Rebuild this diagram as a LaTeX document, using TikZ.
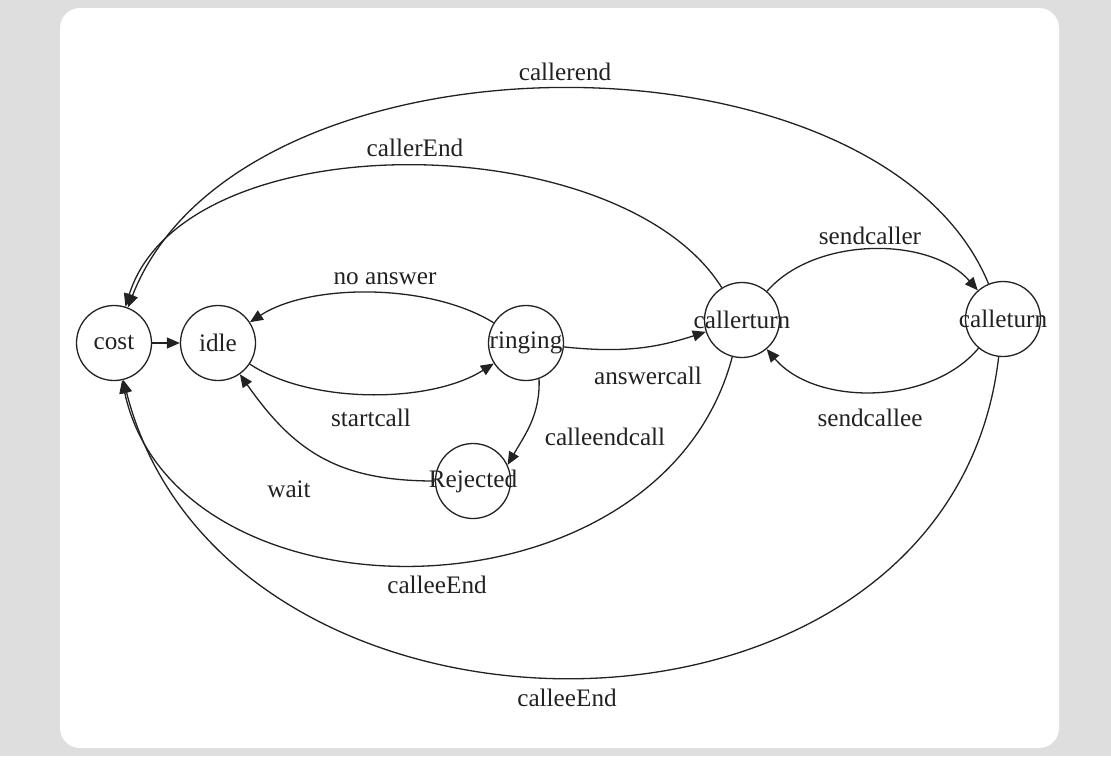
\documentclass[tikz,border=0pt]{standalone}
\usepackage{fontspec}
\setmainfont{Liberation Serif}
\usepackage{tikz}
\usetikzlibrary{arrows.meta, positioning}

\definecolor{pagegray}{HTML}{DEDEDE}
\definecolor{ink}{HTML}{222222}
\newcommand{\stname}[1]{\makebox[0pt]{#1}}

\begin{document}
\begin{tikzpicture}[
  x=0.5pt, y=-0.5pt,
  >={Triangle[length=6.5pt, width=5.5pt]},
  every node/.style={font=\fontsize{12.6}{14}\selectfont, text=ink},
  state/.style={draw=ink, line width=0.65pt, circle, minimum size=37.5pt,
                inner sep=0pt, fill=white},
  lbl/.style={inner sep=1pt},
  trans/.style={->, draw=ink, line width=0.65pt}
]
% ---- PAGE ----
\fill[pagegray] (0,0) rectangle (1111,756);
\fill[white, rounded corners=10pt] (60,8) rectangle (1059,748);

% ---- STATES ----
\node[state] (cost) at (114,343) {\stname{cost}};
\node[state] (idle) at (218,343) {\stname{idle}};
\node[state] (ringing) at (526,343) {\stname{ringing}};
\node[state] (rejected) at (473,481) {\stname{Rejected}};
\node[state] (callerturn) at (742,320) {\stname{callerturn}};
\node[state] (calleturn) at (1003,319) {\stname{calleturn}};

% ---- TRANSITIONS ----
\draw[trans] (cost) -- (idle);
\draw[trans] (idle) .. controls (310,404) and (430,404) .. (ringing);
\draw[trans] (ringing) .. controls (430,283) and (310,283) .. (idle);
\draw[trans] (ringing.-70) to[out=-88, in=60] (rejected.25);
\draw[trans] (rejected) to[out=180, in=-55, looseness=1.1] (idle);
\draw[trans] (ringing) to[bend right=12] (callerturn);
\draw[trans] (callerturn) .. controls (815,236) and (930,236) .. (calleturn);
\draw[trans] (calleturn) .. controls (930,406) and (815,406) .. (callerturn);
\draw[trans] (callerturn) .. controls (620,125) and (184,120) .. (cost);
\draw[trans] (calleturn) .. controls (880,20) and (240,20) .. (cost);
\draw[trans] (callerturn) .. controls (660,630) and (176,630) .. (cost);
\draw[trans] (calleturn) .. controls (950,780) and (225,780) .. (cost);

% ---- LABELS ----
\node[lbl] (l-callerend) at (565,72) {callerend};
\node[lbl] (l-callerEnd) at (415,148) {callerEnd};
\node[lbl] (l-sendcaller) at (870,236) {sendcaller};
\node[lbl] (l-noanswer) at (385,279) {no answer};
\node[lbl] (l-answercall) at (648,376) {answercall};
\node[lbl] (l-startcall) at (371,418) {startcall};
\node[lbl] (l-sendcallee) at (870,418) {sendcallee};
\node[lbl] (l-calleendcall) at (605,437) {calleendcall};
\node[lbl] (l-wait) at (289,489) {wait};
\node[lbl] (l-calleeEnd1) at (437,585) {calleeEnd};
\node[lbl] (l-calleeEnd2) at (567,698) {calleeEnd};
\end{tikzpicture}
\end{document}
